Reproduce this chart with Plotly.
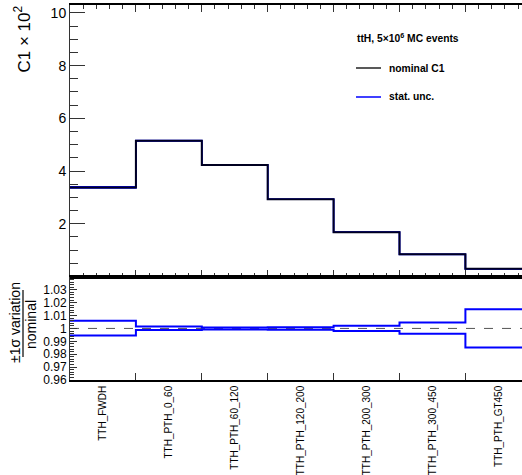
import plotly.graph_objects as go
from plotly.subplots import make_subplots

categories = ["TTH_FWDH", "TTH_PTH_0_60", "TTH_PTH_60_120", "TTH_PTH_120_200",
              "TTH_PTH_200_300", "TTH_PTH_300_450", "TTH_PTH_GT450"]
nominal = [3.38, 5.15, 4.23, 2.93, 1.68, 0.84, 0.29]          # C1 x 10^2
ratio_up = [1.0060, 1.0016, 1.0008, 1.0010, 1.0021, 1.0047, 1.0149]
ratio_down = [0.9945, 0.9987, 0.9992, 0.9990, 0.9980, 0.9958, 0.9853]
top_ticks = [2, 4, 6, 8, 10]
ratio_ticks = [0.96, 0.97, 0.98, 0.99, 1.00, 1.01, 1.02, 1.03]
ratio_ticktext = ["0.96", "0.97", "0.98", "0.99", "1", "1.01", "1.02", "1.03"]

n = len(categories)
edges = list(range(n + 1))
centers = [i + 0.5 for i in range(n)]


def step(vals):
    return vals + [vals[-1]]


W, H = 522, 475
L, R, T, B = 70, 0, 5, 95
pw, ph = W - L - R, H - T - B
bin_px = 65.9
xmax = pw / bin_px


def px(x):
    return (x - L) / pw


def py(y):
    return (H - B - y) / ph


FONT = "Liberation Sans, Arial, Helvetica, sans-serif"
BLUE = "#0000ff"

fig = make_subplots(rows=2, cols=1, shared_xaxes=False, vertical_spacing=0.0)

up_abs = [v * u for v, u in zip(nominal, ratio_up)]
dn_abs = [v * d for v, d in zip(nominal, ratio_down)]
for arr in (up_abs, dn_abs):
    fig.add_trace(go.Scatter(x=edges, y=step(arr), mode="lines", line=dict(color=BLUE, width=1.5, shape="hv"),
                             showlegend=False, hoverinfo="skip"), row=1, col=1)
fig.add_trace(go.Scatter(x=edges, y=step(nominal), mode="lines", line=dict(color="#000020", width=2, shape="hv"),
                         name="nominal C1", showlegend=False), row=1, col=1)

fig.add_trace(go.Scatter(x=[0, xmax], y=[1, 1], mode="lines", line=dict(color="#555555", width=1, dash="dash"),
                         showlegend=False, hoverinfo="skip"), row=2, col=1)
for arr in (ratio_up, ratio_down):
    fig.add_trace(go.Scatter(x=edges, y=step(arr), mode="lines", line=dict(color=BLUE, width=2, shape="hv"),
                             name="stat. unc.", showlegend=False), row=2, col=1)

axcol = "#333333"
fig.update_layout(
    width=W, height=H, margin=dict(l=L, r=R, t=T, b=B, autoexpand=False),
    paper_bgcolor="white", plot_bgcolor="white",
    font=dict(family=FONT, color="black"),
    xaxis=dict(domain=[0, 1], range=[0, xmax], showgrid=False, zeroline=False, showticklabels=False,
               automargin=False,
               tickmode="array", tickvals=edges, ticks="inside", ticklen=7, tickcolor=axcol,
               showline=True, linecolor="black", linewidth=1.5, mirror="ticks",
               minor=dict(dtick=0.2, tick0=0, ticks="inside", ticklen=4, tickcolor=axcol)),
    yaxis=dict(domain=[0.276, 1.0], range=[0, 10.3], showgrid=False, zeroline=False, automargin=False,
               tickmode="array", tickvals=top_ticks, ticks="inside", ticklen=15, tickcolor=axcol,
               tickfont=dict(size=14), showline=True, linecolor=axcol, linewidth=1,
               minor=dict(dtick=0.5, tick0=0, ticks="inside", ticklen=8, tickcolor=axcol)),
    xaxis2=dict(domain=[0, 1], range=[0, xmax], showgrid=False, zeroline=False, automargin=False,
                tickmode="array", tickvals=centers, ticktext=categories, ticks="",
                tickangle=-90, tickfont=dict(size=10),
                showline=True, linecolor="black", linewidth=1.5, mirror=True,
                minor=dict(tickmode="array", tickvals=edges[1:-1], ticks="inside", ticklen=7, tickcolor=axcol)),
    yaxis2=dict(domain=[0.0, 0.275], range=[0.96, 1.04], showgrid=False, zeroline=False, automargin=False,
                tickmode="array", tickvals=ratio_ticks, ticktext=ratio_ticktext, ticks="inside",
                ticklen=7, tickcolor=axcol, tickfont=dict(size=12), showline=True, linecolor=axcol, linewidth=1,
                minor=dict(dtick=0.002, tick0=0.96, ticks="inside", ticklen=4, tickcolor=axcol)),
)

ann = []
ann.append(dict(text="C1 × 10<sup>2</sup>", x=px(22), y=py(4), xref="paper", yref="paper",
                xanchor="center", yanchor="top", textangle=-90, showarrow=False,
                font=dict(size=17, family=FONT)))
ann.append(dict(text="±1σ variation", x=px(15), y=py(323), xref="paper", yref="paper",
                xanchor="center", yanchor="middle", textangle=-90, showarrow=False,
                font=dict(size=14, family=FONT)))
ann.append(dict(text="nominal", x=px(31), y=py(325), xref="paper", yref="paper",
                xanchor="center", yanchor="middle", textangle=-90, showarrow=False,
                font=dict(size=14, family=FONT)))
ann.append(dict(text="<b>ttH, 5×10<sup>6</sup> MC events</b>", x=px(355), y=py(38), xref="paper", yref="paper",
                xanchor="left", yanchor="middle", showarrow=False, font=dict(size=10.3, family=FONT)))
ann.append(dict(text="<b>nominal C1</b>", x=px(387), y=py(68), xref="paper", yref="paper",
                xanchor="left", yanchor="middle", showarrow=False, font=dict(size=10.3, family=FONT)))
ann.append(dict(text="<b>stat. unc.</b>", x=px(387), y=py(97), xref="paper", yref="paper",
                xanchor="left", yanchor="middle", showarrow=False, font=dict(size=10.3, family=FONT)))
fig.update_layout(annotations=ann)

shapes = [
    dict(type="line", xref="paper", yref="paper", x0=px(23), x1=px(23), y0=py(290), y1=py(357),
         line=dict(color="black", width=1.2)),
    dict(type="line", xref="paper", yref="paper", x0=px(356), x1=px(381), y0=py(68), y1=py(68),
         line=dict(color="#222222", width=1.5)),
    dict(type="line", xref="paper", yref="paper", x0=px(356), x1=px(381), y0=py(97), y1=py(97),
         line=dict(color=BLUE, width=1.5)),
]
fig.update_layout(shapes=shapes)

fig.write_html("out.html", config={"displayModeBar": False},
               post_script="document.body.style.margin='0px';document.body.style.padding='0px';")
